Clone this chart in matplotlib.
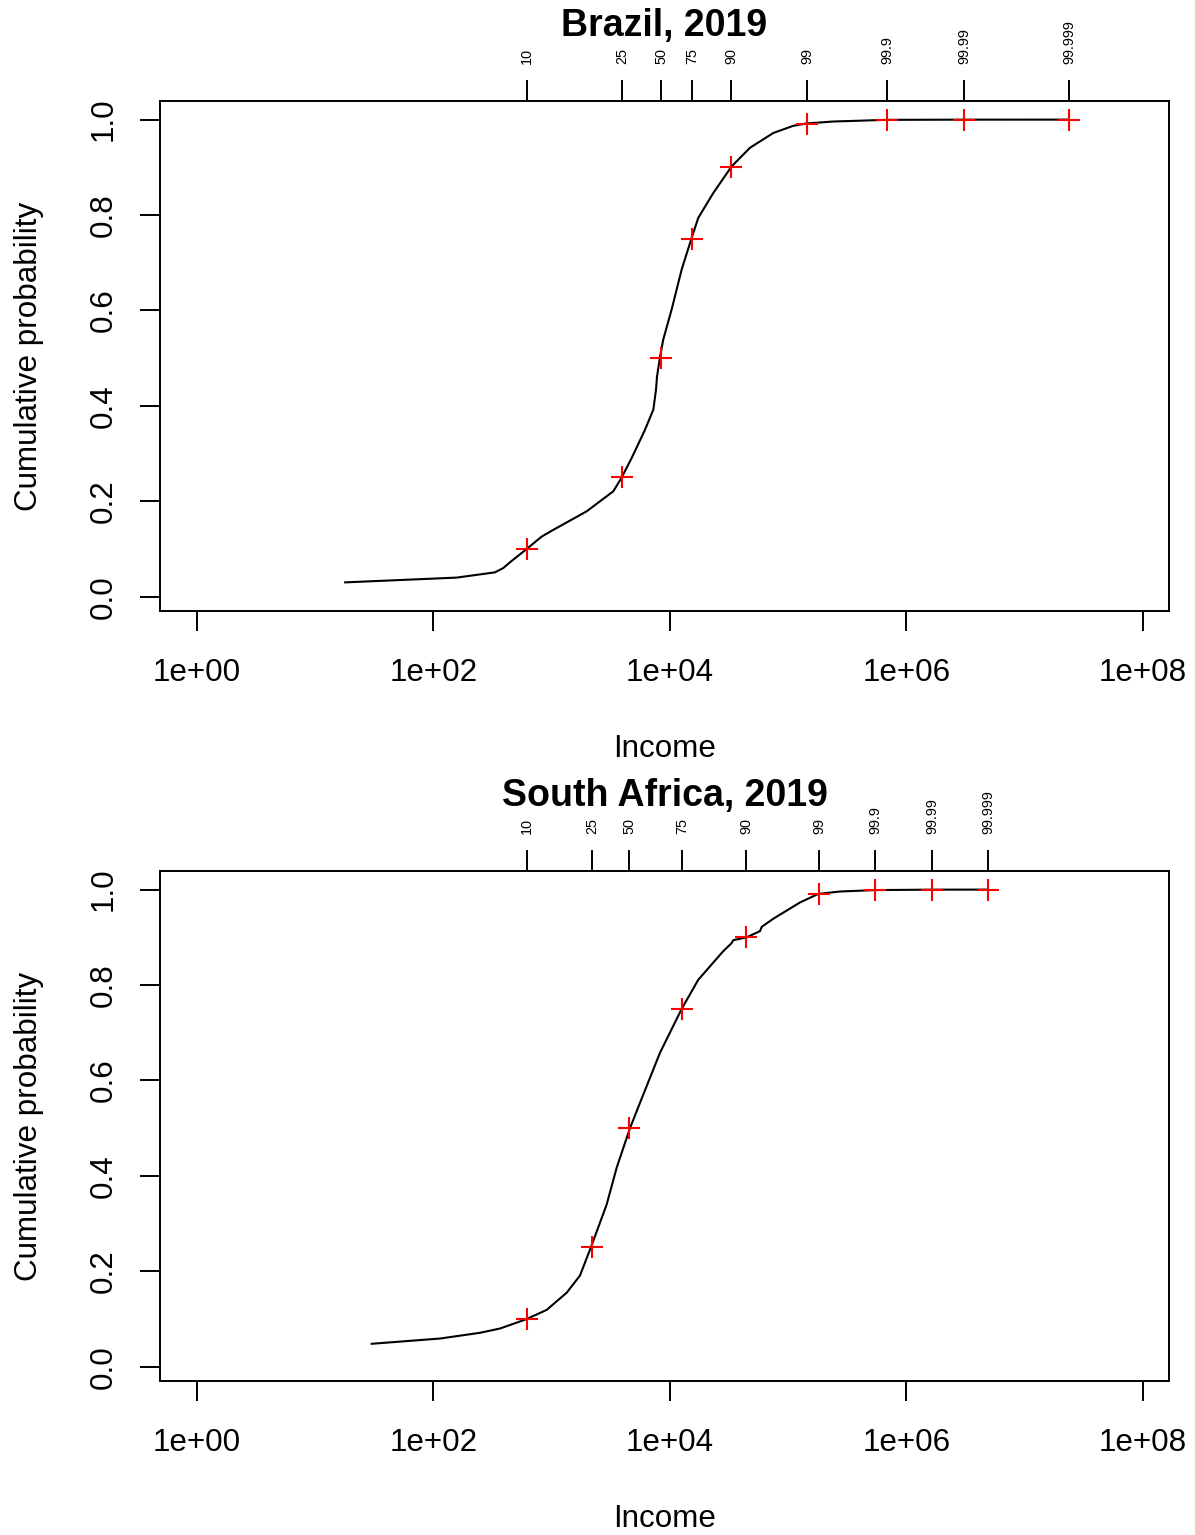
import numpy as np
import matplotlib
matplotlib.use("Agg")
import matplotlib.pyplot as plt
from matplotlib.ticker import NullLocator

plt.rcParams['font.family'] = ['Liberation Sans', 'DejaVu Sans']

# ---------------------------------------------------------------------------
# Data
pct_labels = ['10', '25', '50', '75', '90', '99', '99.9', '99.99', '99.999']
pct_probs = [0.10, 0.25, 0.50, 0.75, 0.90, 0.99, 0.999, 0.9999, 0.99999]

# Brazil, 2019
br_q = [618, 3926, 8395, 15350, 32800, 144200, 684000, 3.06e6, 2.37e7]
br_income = [17.9, 157, 331, 389, 443, 614, 822, 1030, 1976, 3318, 3908,
             4750, 6150, 7230, 7620, 7765, 8230, 8770, 10330, 12560, 15250,
             17340, 23220, 33240, 47500, 74800, 110400, 143300, 240400,
             680000, 3.06e6, 2.37e7]
br_cdf = [0.030, 0.040, 0.051, 0.060, 0.072, 0.100, 0.126, 0.140, 0.179,
          0.221, 0.250, 0.291, 0.350, 0.392, 0.434, 0.461, 0.502, 0.539,
          0.602, 0.686, 0.752, 0.794, 0.846, 0.902, 0.941, 0.972, 0.987,
          0.992, 0.996, 0.9995, 0.9999, 1.0]

# South Africa, 2019
za_q = [618, 2190, 4500, 12620, 43900, 182000, 542000, 1.64e6, 4.89e6]
za_income = [30.0, 113.5, 247, 365, 602, 906, 1337, 1733, 2135, 2915, 3540,
             4590, 5575, 8230, 12560, 17340, 28230, 33240, 34300, 44540,
             57700, 59700, 74800, 125700, 179600, 274000, 542000, 1.63e6,
             4.89e6]
za_cdf = [0.048, 0.059, 0.071, 0.080, 0.099, 0.119, 0.155, 0.191, 0.249,
          0.340, 0.417, 0.500, 0.553, 0.658, 0.750, 0.811, 0.871, 0.888,
          0.894, 0.900, 0.913, 0.922, 0.939, 0.973, 0.991, 0.996, 0.999,
          0.9999, 1.0]

x_ticks = [1e0, 1e2, 1e4, 1e6, 1e8]
x_ticklabels = ['1e+00', '1e+02', '1e+04', '1e+06', '1e+08']
y_ticks = [0.0, 0.2, 0.4, 0.6, 0.8, 1.0]
y_ticklabels = ['0.0', '0.2', '0.4', '0.6', '0.8', '1.0']

# ---------------------------------------------------------------------------
W, H = 1195, 1535
fig = plt.figure(figsize=(W / 100, H / 100), dpi=100)

FS = 22.6
LW = 1.4
XLIM = (0.4866, 1.66e8)
YLIM = (-0.030, 1.039)


def panel(box, title, income, cdf, q):
    ax = fig.add_axes(box)
    ax.plot(income, cdf, color='black', lw=1.5, zorder=2)
    ax.plot(q, pct_probs, ls='none', marker='+', color='red',
            markersize=16, markeredgewidth=1.5, zorder=3)
    ax.set_xscale('log')
    ax.set_xlim(XLIM)
    ax.set_ylim(YLIM)
    ax.set_xticks(x_ticks, x_ticklabels)
    ax.xaxis.set_minor_locator(NullLocator())
    ax.set_yticks(y_ticks, y_ticklabels)
    for lab in ax.get_yticklabels():
        lab.set_rotation(90)
        lab.set_va('center')
    ax.tick_params(axis='x', direction='out', length=14.5, width=LW,
                   labelsize=FS, pad=19)
    ax.tick_params(axis='y', direction='out', length=14.5, width=LW,
                   labelsize=FS, pad=15)
    for s in ax.spines.values():
        s.set_linewidth(LW)

    ax.set_xlabel('Income', fontsize=FS)
    ax.xaxis.set_label_coords(0.5, -0.241)
    ax.set_ylabel('Cumulative probability', fontsize=FS)
    ax.yaxis.set_label_coords(-0.115, 0.5)

    # percentile axis on top
    top = ax.twiny()
    top.set_xscale('log')
    top.set_xlim(XLIM)
    top.set_xticks(q, pct_labels)
    top.xaxis.set_minor_locator(NullLocator())
    top.tick_params(axis='x', direction='out', length=15, width=LW,
                    labelsize=10.4, pad=12, labelrotation=90)
    for s in top.spines.values():
        s.set_visible(False)

    ax.text(0.5, 1.1275, title, transform=ax.transAxes, ha='center',
            va='baseline', fontsize=27, fontweight='bold')
    return ax


panel([160 / W, 1 - 611 / H, 1009 / W, 510 / H], 'Brazil, 2019',
      br_income, br_cdf, br_q)
panel([160 / W, 1 - 1381 / H, 1009 / W, 510 / H], 'South Africa, 2019',
      za_income, za_cdf, za_q)

fig.savefig('out.png', dpi=100)
